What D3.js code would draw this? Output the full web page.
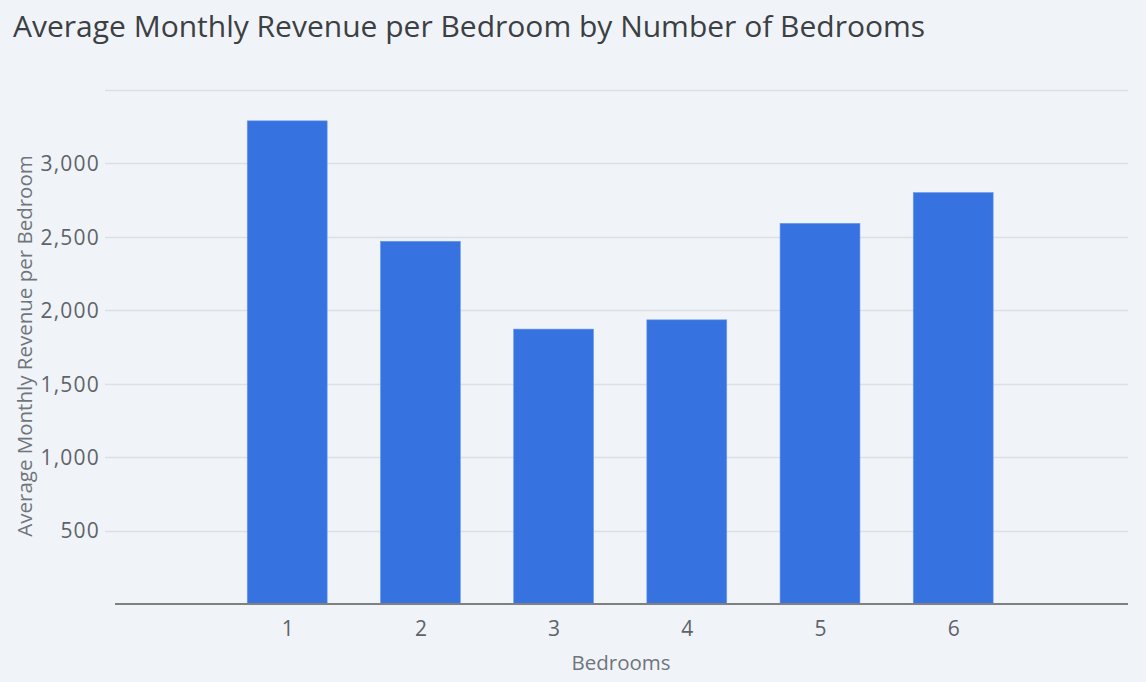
<!DOCTYPE html>
<html>
<head>
<meta charset="utf-8">
<script src="https://cdn.jsdelivr.net/npm/d3@7"></script>
<style>
  html, body { margin: 0; padding: 0; background: #f0f4f9; }
  svg { display: block; }
  text { font-family: "Open Sans", "Noto Sans", sans-serif; }
</style>
</head>
<body>
<svg id="chart" width="1146" height="682"></svg>
<script>
const categories = ["1", "2", "3", "4", "5", "6"];
const values = [3290, 2470, 1872, 1935, 2592, 2802];
const yTicks = [500, 1000, 1500, 2000, 2500, 3000, 3500];
const title = "Average Monthly Revenue per Bedroom by Number of Bedrooms";
const xTitle = "Bedrooms";
const yTitle = "Average Monthly Revenue per Bedroom";

const W = 1146, H = 682;
const plot = { left: 105, right: 1128, top: 90, bottom: 604 };
const svg = d3.select("#chart");

svg.append("rect").attr("width", W).attr("height", H).attr("fill", "#f0f4f9");

const y = d3.scaleLinear().domain([0, 3500]).range([plot.bottom, plot.top]);
const x = d3.scaleLinear().domain([1, 6]).range([287.2, 953.2]);
const step = x(2) - x(1);
const barW = step * 0.6;

// gridlines
svg.append("g").selectAll("line").data(yTicks).join("line")
  .attr("x1", plot.left).attr("x2", plot.right)
  .attr("y1", d => Math.round(y(d)) + 0.5).attr("y2", d => Math.round(y(d)) + 0.5)
  .attr("stroke", "#dcdfe3").attr("stroke-width", 1.5);

// y tick labels (skip top one)
const yAxis = d3.axisLeft(y).tickValues(yTicks.filter(d => d < 3500))
  .tickFormat(d3.format(",")).tickSize(0).tickPadding(0);
const gy = svg.append("g").attr("transform", `translate(100,0)`).call(yAxis);
gy.select(".domain").remove();
gy.selectAll("text").attr("font-size", 21).attr("fill", "#5f6368")
  .attr("letter-spacing", 1.2)
  .attr("font-family", "'Open Sans', sans-serif").attr("dy", "0.35em");

// bars
svg.append("g").selectAll("rect").data(values).join("rect")
  .attr("x", (d, i) => x(+categories[i]) - barW / 2)
  .attr("width", barW)
  .attr("y", d => y(d))
  .attr("height", d => y(0) - y(d))
  .attr("fill", "#3673e0")
  .attr("stroke", "#6d9cec").attr("stroke-width", 0.6);

// baseline
svg.append("line").attr("x1", 115).attr("x2", plot.right)
  .attr("y1", y(0)).attr("y2", y(0))
  .attr("stroke", "#808080").attr("stroke-width", 2);

// x tick labels
const xAxis = d3.axisBottom(x).tickValues(categories.map(Number))
  .tickFormat(d3.format("d")).tickSize(0).tickPadding(0);
const gx = svg.append("g").attr("transform", `translate(0,${y(0)})`).call(xAxis);
gx.select(".domain").remove();
gx.selectAll("text").attr("font-size", 21).attr("fill", "#5f6368")
  .attr("font-family", "'Open Sans', sans-serif").attr("y", 32).attr("dy", 0);

// titles
svg.append("text").attr("x", 13).attr("y", 37).text(title)
  .attr("font-size", 30).attr("fill", "#3c4043");
svg.append("text").attr("x", 621).attr("y", 670).attr("text-anchor", "middle")
  .text(xTitle).attr("font-size", 20.5).attr("fill", "#70757a");
svg.append("text").attr("transform", "translate(32,346) rotate(-90)")
  .attr("text-anchor", "middle").text(yTitle)
  .attr("font-size", 20.5).attr("fill", "#70757a");
</script>
</body>
</html>
